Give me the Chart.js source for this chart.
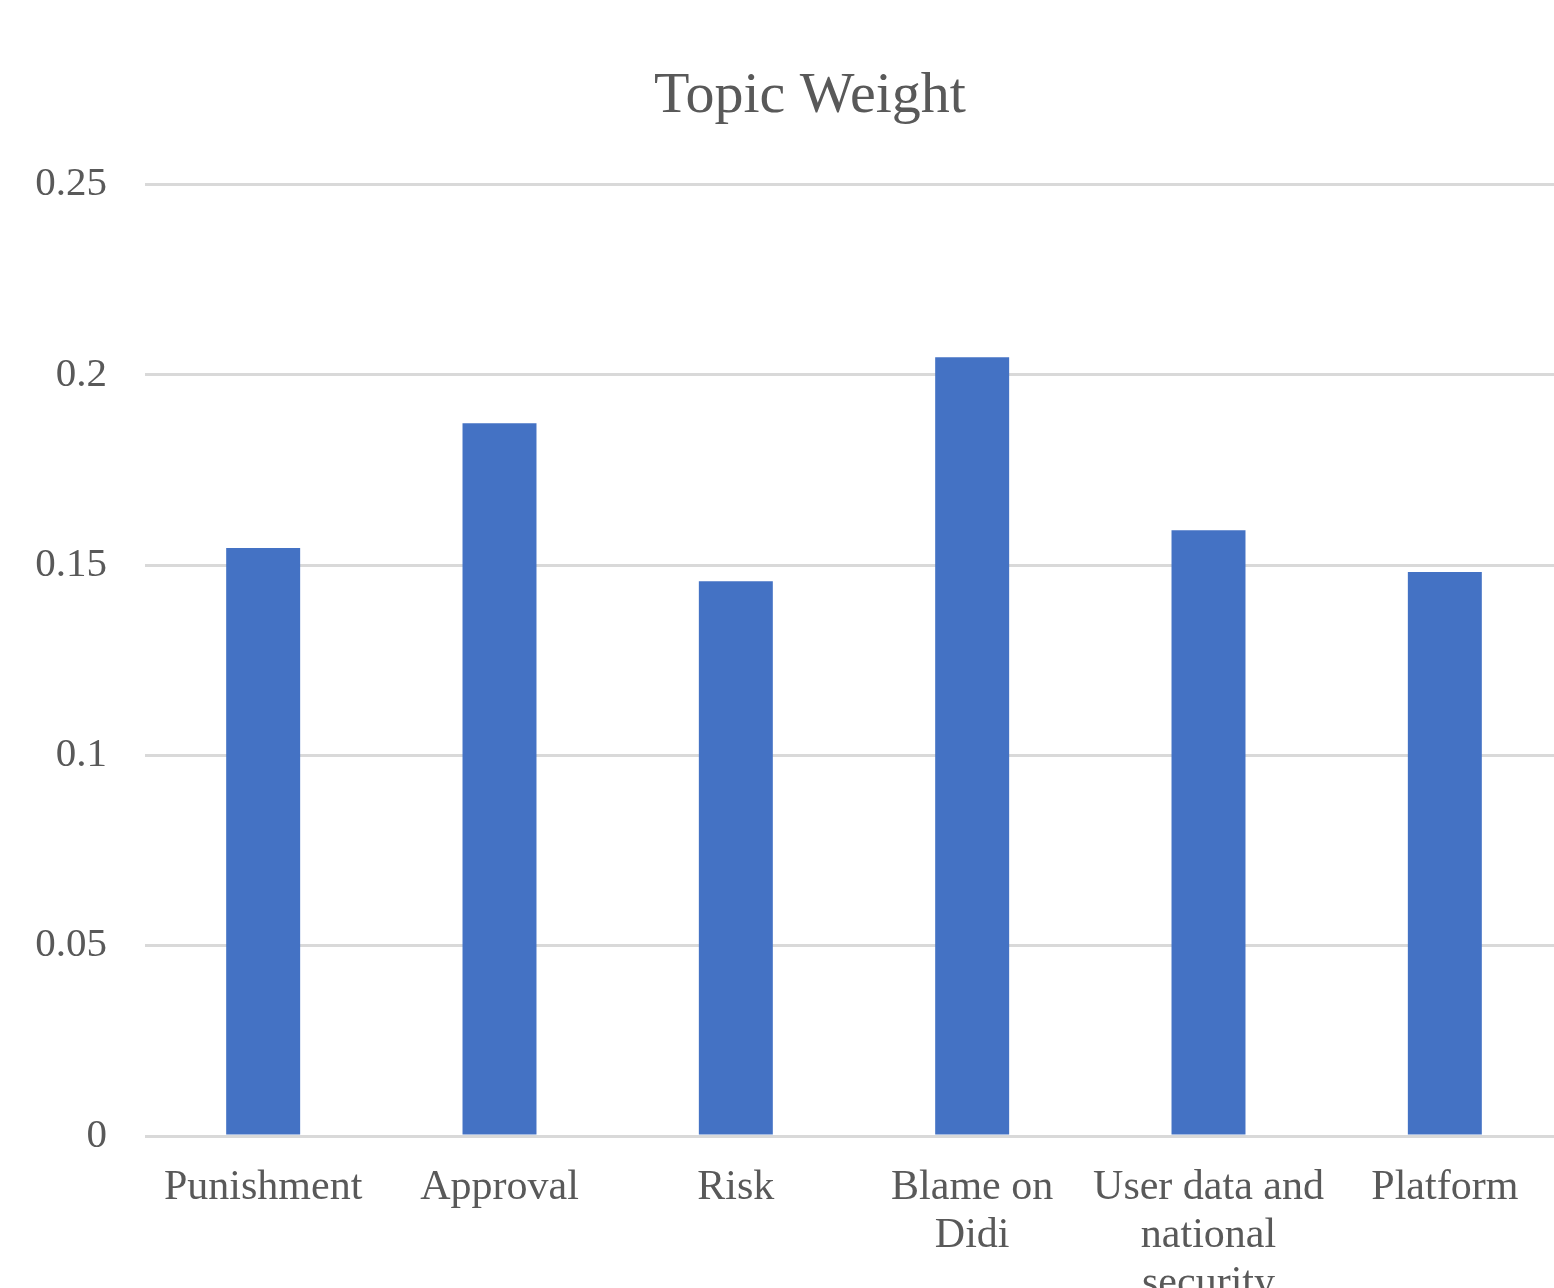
<!DOCTYPE html>
<html>
<head>
<meta charset="utf-8">
<script src="https://cdn.jsdelivr.net/npm/chart.js@4/dist/chart.umd.min.js"></script>
<style>
  html, body { margin: 0; padding: 0; background: #ffffff; overflow: hidden; }
  #wrap { width: 1554px; height: 1288px; overflow: hidden; position: relative; }
  canvas { display: block; }
</style>
</head>
<body>
<div id="wrap">
  <canvas id="chart" width="1620" height="1320"></canvas>
</div>
<script>
// Topic categories (multi-line labels wrap like the original axis)
const categories = [
  "Punishment",
  "Approval",
  "Risk",
  ["Blame on", "Didi"],
  ["User data and", "national", "security"],
  "Platform"
];

// Topic weight per category
const topicWeights = [0.1545, 0.1873, 0.1458, 0.2046, 0.1592, 0.1482];

// Value-axis tick labels
const yTickValues = [0, 0.05, 0.1, 0.15, 0.2, 0.25];
const yTickLabels = ["0", "0.05", "0.1", "0.15", "0.2", "0.25"];

const textColor = "#595959";
const gridColor = "#d9d9d9";
const barColor = "#4472C4";
const fontFamily = "'Liberation Serif', 'Times New Roman', serif";

const canvas = document.getElementById("chart");

new Chart(canvas, {
  type: "bar",
  data: {
    labels: categories,
    datasets: [{
      label: "Topic Weight",
      data: topicWeights,
      backgroundColor: barColor,
      borderWidth: 0,
      categoryPercentage: 1.0,
      barPercentage: 0.313
    }]
  },
  options: {
    responsive: false,
    animation: false,
    devicePixelRatio: 1,
    layout: { padding: 0 },
    plugins: {
      legend: { display: false },
      tooltip: { enabled: false },
      title: {
        display: true,
        text: "Topic Weight",
        color: textColor,
        font: { family: fontFamily, size: 58, weight: "normal" },
        padding: { top: 62, bottom: 53 }
      }
    },
    scales: {
      x: {
        grid: { display: false },
        border: { display: false },
        ticks: {
          color: textColor,
          font: { family: fontFamily, size: 42, lineHeight: 1.14 },
          padding: 20,
          maxRotation: 0,
          minRotation: 0,
          autoSkip: false
        },
        afterFit(scale) {
          scale.height = 1320 - 1136;
          // keep a right margin inside the plot frame while the title stays centred on the canvas
          scale.paddingRight = 57;
        }
      },
      y: {
        min: 0,
        max: 0.25,
        afterBuildTicks(scale) {
          scale.ticks = yTickValues.map(v => ({ value: v }));
        },
        grid: { color: gridColor, lineWidth: 3, drawTicks: false },
        border: { display: false },
        ticks: {
          color: textColor,
          font: { family: fontFamily, size: 41 },
          padding: 38,
          callback(value) {
            const i = yTickValues.indexOf(value);
            return i >= 0 ? yTickLabels[i] : "";
          }
        },
        afterFit(scale) { scale.width = 145; }
      }
    }
  }
});
</script>
</body>
</html>
